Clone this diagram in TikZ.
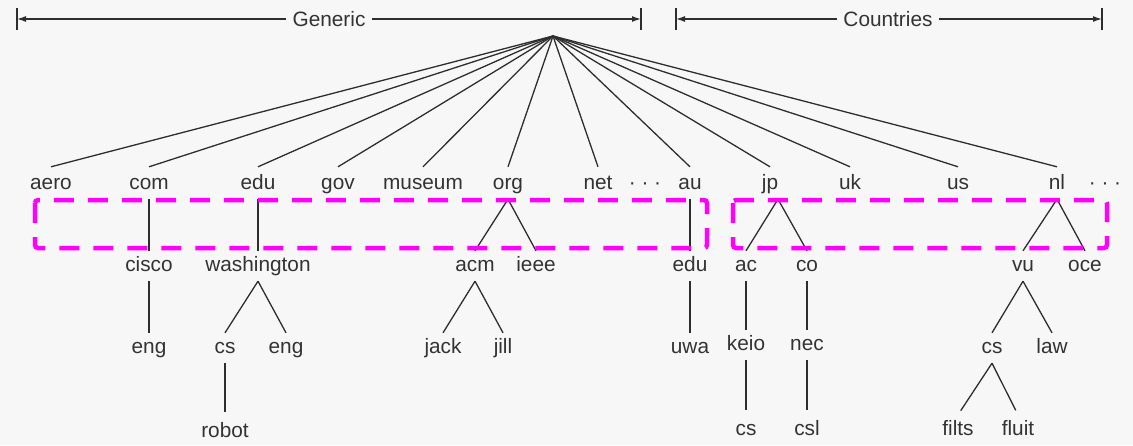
\documentclass[tikz,border=0pt]{standalone}
\usepackage{fontspec}
\setmainfont{Liberation Sans}
\usetikzlibrary{arrows.meta}
\definecolor{bg}{HTML}{F7F7F7}
\definecolor{txt}{HTML}{333333}
\definecolor{ln}{HTML}{2E2E2E}
\definecolor{mag}{HTML}{FF00FF}
\begin{document}
\begin{tikzpicture}[x=1pt,y=-1pt,
  lbl/.style={anchor=base, font=\fontsize{20.8}{24}\selectfont, text=txt,
    text height=16pt, text depth=6pt, inner sep=4pt},
  hdr/.style={font=\fontsize{20.8}{24}\selectfont, text=txt, inner sep=6pt},
  edge/.style={draw=ln, line width=1.3pt},
  deep/.style={edge, shorten >=5pt},
  tickmark/.style={draw=ln, line width=1.5pt},
  span/.style={draw=ln, line width=1.3pt, -{Latex[length=9pt,width=6pt]}},
  magbox/.style={draw=mag, line width=4.5pt, dash pattern=on 20pt off 14pt, rounded corners=3pt}]
\fill[bg] (0,0) rectangle (1133,445);
\useasboundingbox (0,0) rectangle (1133,445);

% header spans
\node[hdr] (generic) at (329,19) {Generic};
\node[hdr] (countries) at (888,19) {Countries};
\coordinate (gL) at (17,19);
\coordinate (gR) at (641,19);
\coordinate (cL) at (676,19);
\coordinate (cR) at (1102,19);
\foreach \t in {gL,gR,cL,cR}
  \draw[tickmark] ([yshift=11pt]\t) -- ([yshift=-11pt]\t);
\draw[span] (generic.west) -- (gL);
\draw[span] (generic.east) -- (gR);
\draw[span] (countries.west) -- (cL);
\draw[span] (countries.east) -- (cR);

% root
\coordinate (root) at (553,36);

% level 1
\node[lbl] (aero) at (51,189) {aero};
\node[lbl] (com) at (149,189) {com};
\node[lbl] (edu1) at (258,189) {edu};
\node[lbl] (gov) at (338,189) {gov};
\node[lbl] (museum) at (423,189) {museum};
\node[lbl] (org) at (508,189) {org};
\node[lbl] (net) at (598,189) {net};
\node[lbl] (dots1) at (645,189) {· · ·};
\node[lbl] (au) at (690,189) {au};
\node[lbl] (jp) at (770,189) {jp};
\node[lbl] (uk) at (850,189) {uk};
\node[lbl] (us) at (958,189) {us};
\node[lbl] (nl) at (1057,189) {nl};
\node[lbl] (dots2) at (1105,189) {· · ·};

\foreach \n in {aero,com,edu1,gov,museum,org,net,au,jp,uk,us,nl}
  \draw[edge] (root) -- ([yshift=2pt]\n.north);

% level 2
\node[lbl] (cisco) at (149,271) {cisco};
\node[lbl] (washington) at (258,271) {washington};
\node[lbl] (acm) at (475,271) {acm};
\node[lbl] (ieee) at (536,271) {ieee};
\node[lbl] (edu2) at (690,271) {edu};
\node[lbl] (ac) at (746,271) {ac};
\node[lbl] (co) at (807,271) {co};
\node[lbl] (vu) at (1023,271) {vu};
\node[lbl] (oce) at (1085,271) {oce};

\draw[edge] (com.south) -- (cisco.north);
\draw[edge] (edu1.south) -- (washington.north);
\draw[edge] (org.south) -- (acm.north);
\draw[edge] (org.south) -- (ieee.north);
\draw[edge] (au.south) -- (edu2.north);
\draw[edge] ([xshift=8pt]jp.south) -- (ac.north);
\draw[edge] ([xshift=8pt]jp.south) -- (co.north);
\draw[edge] (nl.south) -- (vu.north);
\draw[edge] (nl.south) -- (oce.north);

% level 3
\node[lbl] (eng1) at (149,353) {eng};
\node[lbl] (cs1) at (225,353) {cs};
\node[lbl] (eng2) at (286,353) {eng};
\node[lbl] (jack) at (443,353) {jack};
\node[lbl] (jill) at (503,353) {jill};
\node[lbl] (uwa) at (690,353) {uwa};
\node[lbl] (keio) at (746,350) {keio};
\node[lbl] (nec) at (807,350) {nec};
\node[lbl] (cs3) at (992,353) {cs};
\node[lbl] (law) at (1052,353) {law};

\draw[edge] (cisco.south) -- (eng1.north);
\draw[edge] (washington.south) -- (cs1.north);
\draw[edge] (washington.south) -- (eng2.north);
\draw[edge] (acm.south) -- (jack.north);
\draw[edge] (acm.south) -- (jill.north);
\draw[edge] (edu2.south) -- (uwa.north);
\draw[edge] (ac.south) -- (keio.north);
\draw[edge] (co.south) -- (nec.north);
\draw[edge] (vu.south) -- (cs3.north);
\draw[edge] (vu.south) -- (law.north);

% level 4
\node[lbl] (robot) at (225,437) {robot};
\node[lbl] (cs2) at (746,435) {cs};
\node[lbl] (csl) at (807,435) {csl};
\node[lbl] (filts) at (958,435) {filts};
\node[lbl] (fluit) at (1018,435) {fluit};

\draw[deep] (cs1.south) -- (robot.north);
\draw[deep] (keio.south) -- (cs2.north);
\draw[deep] (nec.south) -- (csl.north);
\draw[deep] (cs3.south) -- (filts.north);
\draw[deep] (cs3.south) -- (fluit.north);

% dashed highlight boxes
\draw[magbox] (35,200) rectangle (707,248);
\draw[magbox] (733,200) rectangle (1107,248);
\end{tikzpicture}
\end{document}
